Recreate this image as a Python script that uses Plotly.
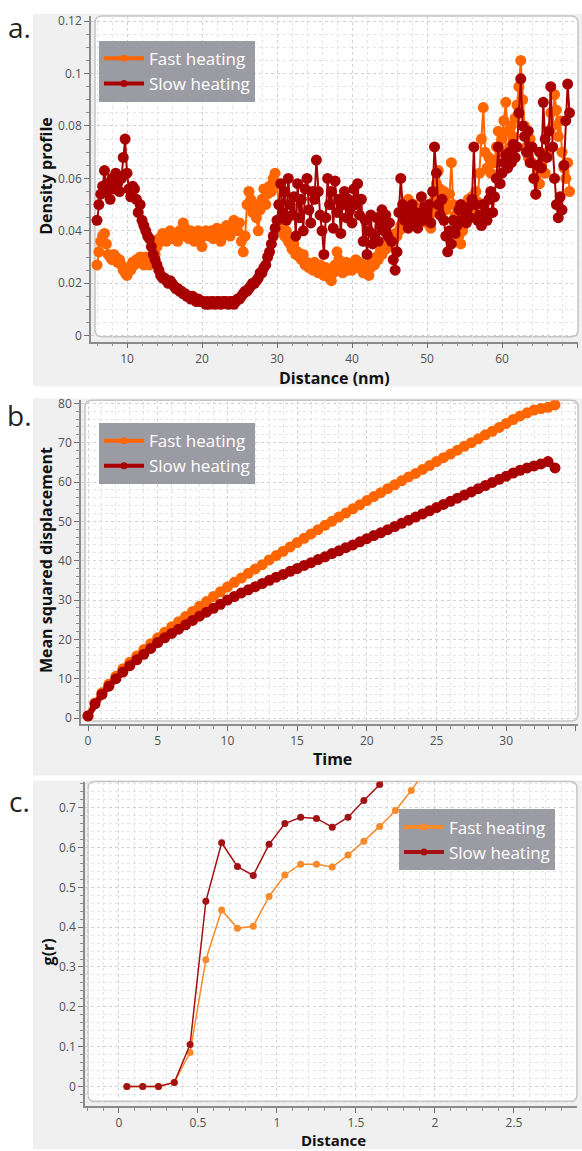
import plotly.graph_objects as go

W, H = 582, 1151

# ---------------- Panel a: density profile ----------------
dist_start, dist_step = 6.0, 0.25
density_fast = [
    0.027, 0.032, 0.036, 0.038, 0.039, 0.035, 0.031, 0.030,
    0.029, 0.031, 0.030, 0.028, 0.029, 0.027, 0.025, 0.024,
    0.023, 0.026, 0.025, 0.028, 0.027, 0.029, 0.028, 0.030,
    0.029, 0.027, 0.030, 0.028, 0.027, 0.030, 0.033, 0.031,
    0.034, 0.037, 0.036, 0.039, 0.038, 0.036, 0.039, 0.040,
    0.037, 0.039, 0.038, 0.036, 0.040, 0.038, 0.043, 0.041,
    0.039, 0.037, 0.040, 0.038, 0.036, 0.039, 0.040, 0.037,
    0.034, 0.038, 0.040, 0.039, 0.038, 0.040, 0.037, 0.039,
    0.041, 0.038, 0.036, 0.040, 0.039, 0.042, 0.040, 0.038,
    0.041, 0.044, 0.042, 0.040, 0.043, 0.036, 0.032, 0.038,
    0.050, 0.055, 0.052, 0.047, 0.050, 0.045, 0.040, 0.048,
    0.052, 0.056, 0.050, 0.054, 0.057, 0.055, 0.060, 0.062,
    0.058, 0.050, 0.044, 0.040, 0.038, 0.040, 0.036, 0.035,
    0.033, 0.035, 0.031, 0.032, 0.030, 0.029, 0.031, 0.027,
    0.028, 0.026, 0.027, 0.025, 0.028, 0.026, 0.024, 0.027,
    0.025, 0.023, 0.026, 0.024, 0.022, 0.021, 0.024, 0.027,
    0.032, 0.029, 0.026, 0.024, 0.026, 0.028, 0.025, 0.027,
    0.025, 0.027, 0.029, 0.026, 0.028, 0.026, 0.024, 0.027,
    0.025, 0.023, 0.026, 0.028, 0.027, 0.030, 0.029, 0.032,
    0.031, 0.034, 0.033, 0.035, 0.034, 0.037, 0.036, 0.039,
    0.038, 0.040, 0.042, 0.041, 0.044, 0.047, 0.052, 0.049,
    0.046, 0.050, 0.045, 0.048, 0.047, 0.044, 0.049, 0.046,
    0.043, 0.045, 0.041, 0.047, 0.052, 0.058, 0.063, 0.056,
    0.052, 0.055, 0.048, 0.050, 0.054, 0.066, 0.050, 0.046,
    0.042, 0.038, 0.035, 0.040, 0.044, 0.048, 0.052, 0.047,
    0.053, 0.049, 0.055, 0.051, 0.062, 0.075, 0.087, 0.070,
    0.064, 0.068, 0.062, 0.067, 0.066, 0.072, 0.078, 0.070,
    0.075, 0.082, 0.089, 0.078, 0.072, 0.080, 0.076, 0.083,
    0.088, 0.095, 0.105, 0.090, 0.080, 0.072, 0.068, 0.075,
    0.066, 0.060, 0.054, 0.062, 0.058, 0.064, 0.068, 0.062,
    0.070, 0.078, 0.085, 0.080, 0.092, 0.086, 0.076, 0.082,
    0.070, 0.064, 0.060, 0.066, 0.055,
]
density_slow = [
    0.044, 0.050, 0.054, 0.057, 0.063, 0.055, 0.058, 0.052,
    0.060, 0.056, 0.062, 0.058, 0.055, 0.060, 0.068, 0.075,
    0.062, 0.056, 0.053, 0.057, 0.056, 0.052, 0.047, 0.050,
    0.044, 0.042, 0.040, 0.038, 0.037, 0.034, 0.031, 0.029,
    0.027, 0.025, 0.023, 0.022, 0.022, 0.021, 0.020, 0.021,
    0.020, 0.019, 0.018, 0.018, 0.017, 0.017, 0.016, 0.016,
    0.015, 0.015, 0.014, 0.015, 0.014, 0.013, 0.014, 0.013,
    0.013, 0.013, 0.012, 0.013, 0.012, 0.013, 0.013, 0.012,
    0.013, 0.013, 0.012, 0.013, 0.013, 0.013, 0.012, 0.013,
    0.013, 0.012, 0.013, 0.014, 0.014, 0.015, 0.016, 0.017,
    0.017, 0.018, 0.019, 0.020, 0.020, 0.021, 0.022, 0.024,
    0.024, 0.026, 0.027, 0.030, 0.032, 0.035, 0.038, 0.041,
    0.044, 0.050, 0.058, 0.047, 0.055, 0.044, 0.060, 0.050,
    0.046, 0.053, 0.038, 0.058, 0.045, 0.052, 0.040, 0.056,
    0.060, 0.048, 0.043, 0.055, 0.052, 0.067, 0.055, 0.046,
    0.040, 0.031, 0.045, 0.060, 0.050, 0.055, 0.041, 0.059,
    0.047, 0.052, 0.039, 0.050, 0.055, 0.045, 0.052, 0.048,
    0.043, 0.056, 0.050, 0.058, 0.046, 0.052, 0.036, 0.044,
    0.031, 0.040, 0.046, 0.035, 0.038, 0.045, 0.036, 0.042,
    0.048, 0.040, 0.046, 0.038, 0.043, 0.036, 0.029, 0.025,
    0.032, 0.047, 0.060, 0.050, 0.044, 0.048, 0.041, 0.046,
    0.050, 0.043, 0.047, 0.041, 0.046, 0.053, 0.044, 0.049,
    0.045, 0.050, 0.043, 0.055, 0.072, 0.062, 0.050, 0.046,
    0.052, 0.044, 0.038, 0.032, 0.040, 0.035, 0.044, 0.039,
    0.042, 0.048, 0.050, 0.044, 0.047, 0.043, 0.049, 0.045,
    0.052, 0.072, 0.050, 0.044, 0.046, 0.042, 0.050, 0.047,
    0.044, 0.052, 0.055, 0.047, 0.053, 0.060, 0.072, 0.058,
    0.062, 0.066, 0.069, 0.064, 0.070, 0.066, 0.073, 0.068,
    0.072, 0.085, 0.098, 0.080, 0.076, 0.070, 0.078, 0.066,
    0.072, 0.060, 0.054, 0.065, 0.070, 0.064, 0.089, 0.075,
    0.068, 0.078, 0.095, 0.072, 0.060, 0.050, 0.045, 0.053,
    0.048, 0.065, 0.082, 0.096, 0.085,
]
distance_a = [round(dist_start + dist_step * i, 2) for i in range(len(density_slow))]

# ---------------- Panel b: MSD ----------------
time_start, time_step = 0.0, 0.5
msd_fast = [
    0.6, 3.8, 6.4, 8.6, 10.6, 12.5, 14.2, 15.8, 17.4, 18.9,
    20.4, 21.8, 23.2, 24.5, 25.8, 27.1, 28.4, 29.6, 30.9, 32.1,
    33.3, 34.5, 35.6, 36.8, 37.9, 39.0, 40.2, 41.3, 42.4, 43.5,
    44.6, 45.7, 46.8, 47.9, 49.0, 50.0, 51.1, 52.1, 53.2, 54.2,
    55.3, 56.3, 57.3, 58.3, 59.3, 60.3, 61.3, 62.2, 63.2, 64.2,
    65.2, 66.2, 67.1, 68.1, 69.1, 70.0, 71.0, 72.0, 72.9, 73.9,
    74.9, 75.9, 76.8, 77.6, 78.3, 78.7, 79.0, 79.6,
]
msd_slow = [
    0.5, 3.6, 6.0, 8.1, 10.0, 11.7, 13.3, 14.8, 16.2, 17.7,
    19.2, 20.4, 21.5, 22.6, 23.7, 24.8, 25.9, 26.9, 27.9, 28.9,
    30.0, 30.9, 31.8, 32.6, 33.4, 34.2, 35.0, 35.8, 36.5, 37.3,
    38.0, 38.8, 39.5, 40.3, 41.0, 41.8, 42.5, 43.3, 44.0, 44.8,
    45.6, 46.4, 47.1, 47.9, 48.7, 49.5, 50.3, 51.1, 51.9, 52.7,
    53.5, 54.3, 55.1, 55.9, 56.7, 57.5, 58.3, 59.1, 59.9, 60.7,
    61.5, 62.3, 63.0, 63.6, 64.1, 64.6, 65.2, 63.6,
]
time_b = [round(time_start + time_step * i, 2) for i in range(len(msd_fast))]

# ---------------- Panel c: g(r) ----------------
r_c = [0.05, 0.15, 0.25, 0.35, 0.45, 0.55, 0.65, 0.75, 0.85, 0.95,
       1.05, 1.15, 1.25, 1.35, 1.45, 1.55, 1.65, 1.75, 1.85, 1.95]
g_fast = [0.0, 0.0, 0.0, 0.01, 0.085, 0.318, 0.443, 0.397, 0.402, 0.477,
          0.531, 0.558, 0.558, 0.551, 0.581, 0.616, 0.653, 0.693, 0.743, 0.80]
g_slow = [0.0, 0.0, 0.0, 0.01, 0.105, 0.465, 0.612, 0.552, 0.530, 0.608,
          0.660, 0.676, 0.673, 0.651, 0.676, 0.718, 0.758, 0.81, 0.86, 0.91]

FAST = "#ff6600"
SLOW = "#a80000"
FAST_C = "#f98a2a"
SLOW_C = "#a31212"

# pixel geometry: white plot boxes (x0, y0, x1, y1) and axis-line positions (x, y)
boxes = {
    "a": (95, 10, 578, 333),
    "b": (85, 397, 578, 720),
    "c": (88, 781, 577, 1103),
}
axis_pos = {"a": (91, 338), "b": (81, 723), "c": (85, 1108)}
bgs = {"a": (33, 8, 582, 383), "b": (33, 395, 582, 775), "c": (33, 780, 582, 1151)}


def px(x):
    return x / W


def py(y):
    return 1 - y / H


def rounded_path(x0, y0, x1, y1, r):
    pts = [
        ("M", x0 + r, y0), ("L", x1 - r, y0), ("Q", x1, y0, x1, y0 + r),
        ("L", x1, y1 - r), ("Q", x1, y1, x1 - r, y1), ("L", x0 + r, y1),
        ("Q", x0, y1, x0, y1 - r), ("L", x0, y0 + r), ("Q", x0, y0, x0 + r, y0),
    ]
    s = ""
    for p in pts:
        cmd = p[0]
        coords = p[1:]
        parts = []
        for i in range(0, len(coords), 2):
            parts.append(f"{px(coords[i]):.5f},{py(coords[i + 1]):.5f}")
        s += cmd + " " + " ".join(parts) + " "
    return s + "Z"


fig = go.Figure()

# Panel a traces
fig.add_trace(go.Scatter(x=distance_a, y=density_fast, mode="lines+markers",
                         line=dict(color=FAST, width=2), marker=dict(color=FAST, size=11),
                         xaxis="x", yaxis="y", showlegend=False))
fig.add_trace(go.Scatter(x=distance_a, y=density_slow, mode="lines+markers",
                         line=dict(color=SLOW, width=2), marker=dict(color=SLOW, size=11),
                         xaxis="x", yaxis="y", showlegend=False))
# Panel b traces
fig.add_trace(go.Scatter(x=time_b, y=msd_fast, mode="lines+markers",
                         line=dict(color=FAST, width=6), marker=dict(color=FAST, size=11),
                         xaxis="x2", yaxis="y2", showlegend=False))
fig.add_trace(go.Scatter(x=time_b, y=msd_slow, mode="lines+markers",
                         line=dict(color=SLOW, width=6), marker=dict(color=SLOW, size=11),
                         xaxis="x2", yaxis="y2", showlegend=False))
# Panel c traces
fig.add_trace(go.Scatter(x=r_c, y=g_fast, mode="lines+markers",
                         line=dict(color=FAST_C, width=1.5), marker=dict(color=FAST_C, size=7),
                         xaxis="x3", yaxis="y3", showlegend=False))
fig.add_trace(go.Scatter(x=r_c, y=g_slow, mode="lines+markers",
                         line=dict(color=SLOW_C, width=1.5), marker=dict(color=SLOW_C, size=7),
                         xaxis="x3", yaxis="y3", showlegend=False))

# legend entries
for leg, xa, ya, fc, sc in [("legend", "x", "y", FAST, SLOW),
                            ("legend2", "x2", "y2", FAST, SLOW),
                            ("legend3", "x3", "y3", FAST_C, SLOW_C)]:
    fig.add_trace(go.Scatter(x=[None], y=[None], mode="lines+markers", name="Fast heating",
                             line=dict(color=fc, width=4), marker=dict(color=fc, size=7),
                             xaxis=xa, yaxis=ya, legend=leg))
    fig.add_trace(go.Scatter(x=[None], y=[None], mode="lines+markers", name="Slow heating",
                             line=dict(color=sc, width=4), marker=dict(color=sc, size=7),
                             xaxis=xa, yaxis=ya, legend=leg))

FONT = "Open Sans, Noto Sans, sans-serif"
GRID = "#d2d2d2"
MINOR_GRID = "#e4e4e4"


def common_axis(rng, dtick, minor_dtick, anchor):
    return dict(range=rng, anchor=anchor, dtick=dtick, tick0=0,
                showgrid=True, gridcolor=GRID, griddash="dot", gridwidth=1,
                zeroline=False, showline=True, linecolor="#8a8a8a", linewidth=1.5,
                ticks="outside", ticklen=5, tickcolor="#707070",
                tickfont=dict(family=FONT, size=12, color="#505050"),
                minor=dict(dtick=minor_dtick, ticks="outside", ticklen=3, tickcolor="#909090",
                           showgrid=True, gridcolor=MINOR_GRID, griddash="dot"),
                fixedrange=True)


def xaxis_cfg(k, rng, dtick, minor_dtick, anchor):
    cfg = common_axis(rng, dtick, minor_dtick, anchor)
    cfg["domain"] = [px(axis_pos[k][0]), px(boxes[k][2])]
    return cfg


def yaxis_cfg(k, rng, dtick, minor_dtick, anchor):
    cfg = common_axis(rng, dtick, minor_dtick, anchor)
    cfg["domain"] = [py(axis_pos[k][1]), py(boxes[k][1])]
    return cfg


shapes = []
for k in ["a", "b", "c"]:
    bx0, by0, bx1, by1 = bgs[k]
    shapes.append(dict(type="rect", xref="paper", yref="paper", x0=px(bx0), x1=px(bx1),
                       y0=py(by1), y1=py(by0), fillcolor="#f0f0f0", line=dict(width=0),
                       layer="below"))
    x0, y0, x1, y1 = boxes[k]
    shapes.append(dict(type="path", xref="paper", yref="paper",
                       path=rounded_path(x0, y0, x1, y1, 7), fillcolor="white",
                       line=dict(color="#c4c4c4", width=1.5), layer="below"))

annotations = []


def ann(text, x, y, angle=0, size=16, bold=True, color="#111111"):
    annotations.append(dict(text=f"<b>{text}</b>" if bold else text, x=px(x), y=py(y),
                            xref="paper", yref="paper", showarrow=False, textangle=angle,
                            xanchor="center", yanchor="middle",
                            font=dict(family=FONT, size=size, color=color)))


ann("Density profile", 46, 171, angle=-90)
ann("Distance (nm)", 334, 375)
ann("Mean squared displacement", 46, 558, angle=-90)
ann("Time", 332, 758)
ann("g(r)", 48, 953, angle=-90)
ann("Distance", 333, 1142, size=15)
ann("a.", 19, 21, size=28, bold=False, color="#222222")
ann("b.", 19, 412, size=28, bold=False, color="#222222")
ann("c.", 19, 801, size=28, bold=False, color="#222222")

legend_style = dict(bgcolor="rgba(150,150,158,0.95)", borderwidth=0,
                    font=dict(family=FONT, size=17, color="white"),
                    xanchor="left", yanchor="top", itemwidth=40, tracegroupgap=0)

fig.update_layout(
    width=W, height=H,
    margin=dict(l=0, r=0, t=0, b=0),
    paper_bgcolor="white", plot_bgcolor="rgba(0,0,0,0)",
    font=dict(family=FONT),
    xaxis=xaxis_cfg("a", [5.2, 70.13], 10, 2, "y"),
    yaxis=yaxis_cfg("a", [-0.00227, 0.12197], 0.02, 0.005, "x"),
    xaxis2=xaxis_cfg("b", [-0.502, 35.15], 5, 1, "y2"),
    yaxis2=yaxis_cfg("b", [-1.515, 80.8], 10, 2, "x2"),
    xaxis3=xaxis_cfg("c", [-0.215, 2.899], 0.5, 0.1, "y3"),
    yaxis3=yaxis_cfg("c", [-0.0499, 0.7656], 0.1, 0.02, "x3"),
    legend=dict(x=px(99), y=py(35), **legend_style),
    legend2=dict(x=px(99), y=py(420), **legend_style),
    legend3=dict(x=px(399), y=py(809), **legend_style),
    shapes=shapes,
    annotations=annotations,
)
fig.update_xaxes(ticklabelstandoff=0)

fig.write_html("out.html")
